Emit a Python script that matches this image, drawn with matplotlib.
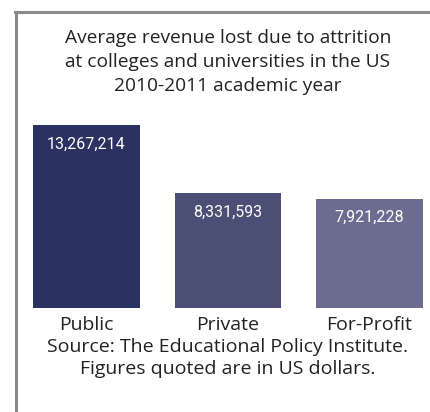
import matplotlib.pyplot as plt
from matplotlib.lines import Line2D

categories = ["Public", "Private", "For-Profit"]
revenue_lost = [13267214, 8331593, 7921228]
bar_colors = ["#2b3160", "#4b4e75", "#6b6c90"]

title = ("Average revenue lost due to attrition\n"
         "at colleges and universities in the US\n"
         "2010-2011 academic year")
source = ("Source: The Educational Policy Institute.\n"
          "Figures quoted are in US dollars.")

W, H = 431, 412
fig = plt.figure(figsize=(W / 100, H / 100), dpi=100)

# frame lines (top and left)
fig.add_artist(Line2D([16 / W, 16 / W], [0, 1 - 12 / H], color="#8a8a8a", lw=2.2))
fig.add_artist(Line2D([15 / W, 1], [1 - 12 / H, 1 - 12 / H], color="#8a8a8a", lw=2.2))

ax = fig.add_axes([33 / W, 104 / H, 390 / W, 183 / H])
x = range(len(categories))
bars = ax.bar(x, revenue_lost, width=0.756, color=bar_colors)
ax.set_xlim(-0.378, 2.378)
ax.set_ylim(0, max(revenue_lost))
ax.axis("off")

for b, v in zip(bars, revenue_lost):
    ax.annotate(f"{v:,}", (b.get_x() + b.get_width() / 2, v),
                xytext=(0, -19), textcoords="offset pixels",
                ha="center", va="center", color="white",
                fontsize=11.5, family="Roboto")

for i, c in enumerate(categories):
    ax.annotate(c, (i, 0), xytext=(0, -17), textcoords="offset pixels",
                ha="center", va="center", color="#222222",
                fontsize=14, family="Open Sans")

fig.text(228 / W, 1 - 62 / H, title, ha="center", va="center",
         fontsize=13.8, family="Open Sans", color="#222222", linespacing=1.45)
fig.text(228 / W, 1 - 358 / H, source, ha="center", va="center",
         fontsize=14, family="Open Sans", color="#222222", linespacing=1.35)

fig.savefig("out.png", dpi=100)
